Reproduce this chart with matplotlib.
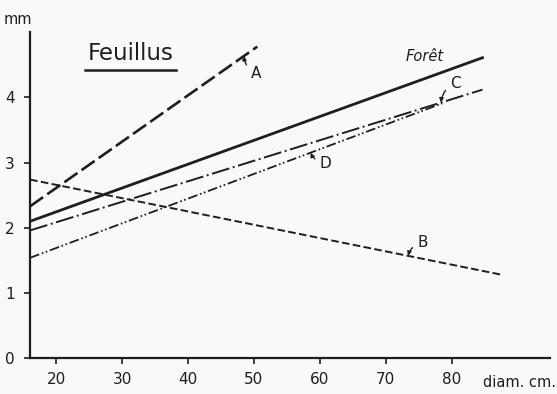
import matplotlib.pyplot as plt
import numpy as np

plt.rcParams['lines.scale_dashes'] = False

ink = '#1e1e1e'
paper = '#f9f9f7'

# diameter (cm) and ring width (mm) at both ends of each fitted line
a_x = [16, 50.5]
a_y = [2.33, 4.78]
foret_x = [16, 84.7]
foret_y = [2.10, 4.61]
c_x = [16, 84.7]
c_y = [1.96, 4.12]
d_x = [16, 78.6]
d_y = [1.54, 3.91]
b_x = [16, 87.6]
b_y = [2.74, 1.28]

x_ticks = [20, 30, 40, 50, 60, 70, 80]
y_ticks = [0, 1, 2, 3, 4]


def on_line(xs, ys, x):
    return np.interp(x, xs, ys)


fig = plt.figure(figsize=(5.57, 3.94), dpi=100, facecolor=paper)
ax = fig.add_axes([0.054, 0.091, 0.934, 0.827], facecolor=paper)

ax.plot(a_x, a_y, color=ink, lw=1.9, dashes=(11.5, 3.6))
ax.plot(foret_x, foret_y, color=ink, lw=2.0)
ax.plot(c_x, c_y, color=ink, lw=1.4, dashes=(13, 2.6, 1.4, 2.6))
ax.plot(d_x, d_y, color=ink, lw=1.3, dashes=(7, 2, 1.2, 1.8, 1.2, 2))
ax.plot(b_x, b_y, color=ink, lw=1.4, dashes=(5.5, 2.4))

ax.set_xlim(16, 95)
ax.set_ylim(0, 5)
ax.spines['top'].set_visible(False)
ax.spines['right'].set_visible(False)
ax.spines['left'].set_linewidth(1.6)
ax.spines['bottom'].set_linewidth(1.6)
ax.spines['left'].set_color(ink)
ax.spines['bottom'].set_color(ink)
ax.set_xticks(x_ticks)
ax.set_yticks(y_ticks)
ax.tick_params(direction='out', length=4, width=1.2, colors=ink,
               labelsize=11)
ax.tick_params(axis='x', pad=6)
ax.tick_params(axis='y', pad=7)

ax.text(14.2, 5.19, 'mm', fontsize=10.5, color=ink, ha='center', va='center',
        clip_on=False)
ax.text(90.3, -0.37, 'diam. cm.', fontsize=10.5, color=ink, ha='center',
        va='center', clip_on=False)

ax.text(31.3, 4.67, 'Feuillus', fontsize=16.5, color=ink, ha='center',
        va='center')
ax.plot([24.4, 38.2], [4.42, 4.42], color=ink, lw=1.8)

ax.text(75.9, 4.63, 'Forêt', fontsize=10.5, style='italic', color=ink,
        ha='center', va='center')

arrow = dict(arrowstyle='-|>', color=ink, lw=1.0, mutation_scale=6,
             shrinkA=2, shrinkB=0, connectionstyle='arc3,rad=-0.3')
ax.annotate('A', xy=(48.5, on_line(a_x, a_y, 48.5)), xytext=(50.3, 4.37),
            fontsize=11, color=ink, ha='center', va='center', arrowprops=arrow)
ax.annotate('C', xy=(78.4, on_line(c_x, c_y, 78.4)), xytext=(80.6, 4.22),
            fontsize=11, color=ink, ha='center', va='center',
            arrowprops=dict(arrow, connectionstyle='arc3,rad=0.3'))
ax.annotate('D', xy=(58.6, on_line(d_x, d_y, 58.6)), xytext=(60.9, 2.99),
            fontsize=11, color=ink, ha='center', va='center', arrowprops=arrow)
ax.annotate('B', xy=(73.4, on_line(b_x, b_y, 73.4)), xytext=(75.6, 1.78),
            fontsize=11, color=ink, ha='center', va='center',
            arrowprops=dict(arrow, connectionstyle='arc3,rad=0.3'))

fig.savefig('out.png', dpi=100, facecolor=paper)
